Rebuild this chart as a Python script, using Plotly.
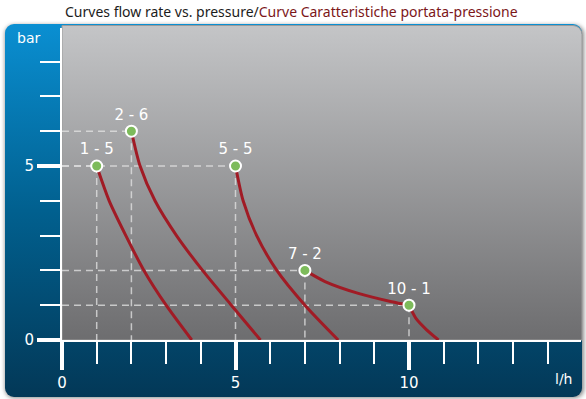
import base64
import plotly.graph_objects as go

# ---------------- data ----------------
point_x = [1, 2, 5, 7, 10]
point_y = [5, 6, 5, 2, 1]
point_labels = ["1 - 5", "2 - 6", "5 - 5", "7 - 2", "10 - 1"]

curve1_x = [1, 1.36, 1.84, 2.36, 3.0, 3.74]
curve1_y = [5, 4, 3, 2, 1, 0]
curve2_x = [2, 2.25, 2.68, 3.3, 4.05, 4.88, 5.72]
curve2_y = [6, 5, 4, 3, 2, 1, 0]
curve3_x = [5, 5.22, 5.61, 6.19, 7.0, 7.96]
curve3_y = [5, 4, 3, 2, 1, 0]
curve4a_x = [7, 7.58, 8.54, 9.5, 10]
curve4a_y = [2, 1.68, 1.34, 1.1, 1]
curve4b_x = [10, 10.2, 10.5, 10.85]
curve4b_y = [1, 0.62, 0.3, 0]
curves = [(curve1_x, curve1_y), (curve2_x, curve2_y), (curve3_x, curve3_y),
          (curve4a_x, curve4a_y), (curve4b_x, curve4b_y)]

x_ticks = [0, 5, 10]
y_ticks = [0, 5]

# ---------------- geometry ----------------
W, H = 586, 399
X0PX, XPU = 62, 34.7      # pixel of x=0, pixels per unit
Y0PX, YPU = 340, 34.8
XMAX, YMAX = 14.95, 8.97

svg = f'''<svg xmlns="http://www.w3.org/2000/svg" width="{W}" height="{H}" viewBox="0 0 {W} {H}">
<defs>
<linearGradient id="b" x1="0" y1="0" x2="0" y2="1">
<stop offset="0" stop-color="#0a8fd2"/><stop offset="0.5" stop-color="#01608f"/><stop offset="1" stop-color="#033857"/></linearGradient>
<linearGradient id="g" x1="0" y1="0" x2="0" y2="1">
<stop offset="0" stop-color="#c4c5c7"/><stop offset="1" stop-color="#6d6d6f"/></linearGradient>
<filter id="s" x="-5%" y="-5%" width="110%" height="110%"><feGaussianBlur stdDeviation="2"/></filter>
</defs>
<rect x="5" y="25" width="579" height="373" rx="9" fill="#8a8a8a" filter="url(#s)"/>
<rect x="5" y="24" width="577" height="373" rx="9" fill="url(#b)"/>
<path d="M62,25.5 H573 A9,9 0 0 1 582,34.5 V340 H62 Z" fill="url(#g)" stroke="#9a9a9a" stroke-width="1"/>
</svg>'''
src = "data:image/svg+xml;base64," + base64.b64encode(svg.encode()).decode()

fig = go.Figure()

dash_col = "rgba(228,228,228,0.75)"
for px_, py_ in zip(point_x, point_y):
    fig.add_trace(go.Scatter(x=[0, px_], y=[py_, py_], mode="lines",
                             line=dict(color=dash_col, width=1.5, dash="7px,5px"),
                             hoverinfo="skip"))
    fig.add_trace(go.Scatter(x=[px_, px_], y=[py_, 0], mode="lines",
                             line=dict(color=dash_col, width=1.5, dash="7px,5px"),
                             hoverinfo="skip"))

for cx, cy in curves:
    fig.add_trace(go.Scatter(x=cx, y=cy, mode="lines",
                             line=dict(color="#a11b25", width=3, shape="spline", smoothing=0.7),
                             hoverinfo="skip"))

fig.add_trace(go.Scatter(x=point_x, y=point_y, mode="markers+text",
                         text=point_labels, textposition="top center",
                         textfont=dict(family="DejaVu Sans", size=15, color="white"),
                         marker=dict(size=11, color="#7dbb5b", line=dict(color="white", width=2)),
                         cliponaxis=False, hoverinfo="skip"))

tickfont = dict(family="DejaVu Sans", size=15, color="white")
fig.update_layout(
    width=W, height=H, margin=dict(l=0, r=0, t=0, b=0),
    paper_bgcolor="white", plot_bgcolor="rgba(0,0,0,0)",
    showlegend=False, hovermode=False,
    images=[dict(source=src, xref="paper", yref="paper", x=0, y=1, sizex=1, sizey=1,
                 xanchor="left", yanchor="top", sizing="stretch", layer="below")],
    xaxis=dict(domain=[X0PX / W, (X0PX + XMAX * XPU) / W], range=[0, XMAX],
               tickmode="array", tickvals=x_ticks, ticktext=[str(v) for v in x_ticks],
               ticks="outside", ticklen=28, tickwidth=4, tickcolor="white",
               minor=dict(dtick=1, tick0=0, ticks="outside", ticklen=22, tickwidth=2, tickcolor="white"),
               showgrid=False, zeroline=False, showline=True, linecolor="white", linewidth=2,
               tickfont=tickfont, automargin=False, fixedrange=True),
    yaxis=dict(domain=[(H - Y0PX) / H, (H - (Y0PX - YMAX * YPU)) / H], range=[0, YMAX],
               tickmode="array", tickvals=y_ticks, ticktext=[str(v) for v in y_ticks],
               ticks="outside", ticklen=23, tickwidth=4, tickcolor="white",
               minor=dict(dtick=1, tick0=0, ticks="outside", ticklen=20, tickwidth=2, tickcolor="white"),
               showgrid=False, zeroline=False, showline=True, linecolor="white", linewidth=2,
               tickfont=tickfont, automargin=False, fixedrange=True),
    annotations=[
        dict(text="Curves flow rate vs. pressure/<span style='color:#7c1619'>Curve Caratteristiche portata-pressione</span>",
             xref="paper", yref="paper", x=291 / W, y=(H - 11) / H, xanchor="center", yanchor="middle",
             showarrow=False, font=dict(family="Noto Sans", size=14, color="#1c1c1c")),
        dict(text="bar", xref="paper", yref="paper", x=28 / W, y=(H - 38) / H,
             xanchor="center", yanchor="middle", showarrow=False,
             font=dict(family="DejaVu Sans", size=14, color="white")),
        dict(text="l/h", xref="paper", yref="paper", x=563 / W, y=(H - 379) / H,
             xanchor="center", yanchor="middle", showarrow=False,
             font=dict(family="DejaVu Sans", size=14, color="white")),
    ],
)

fig.write_html("out.html", config={"displayModeBar": False, "staticPlot": True},
               post_script="document.body.style.margin='0px';document.body.style.overflow='hidden';")
